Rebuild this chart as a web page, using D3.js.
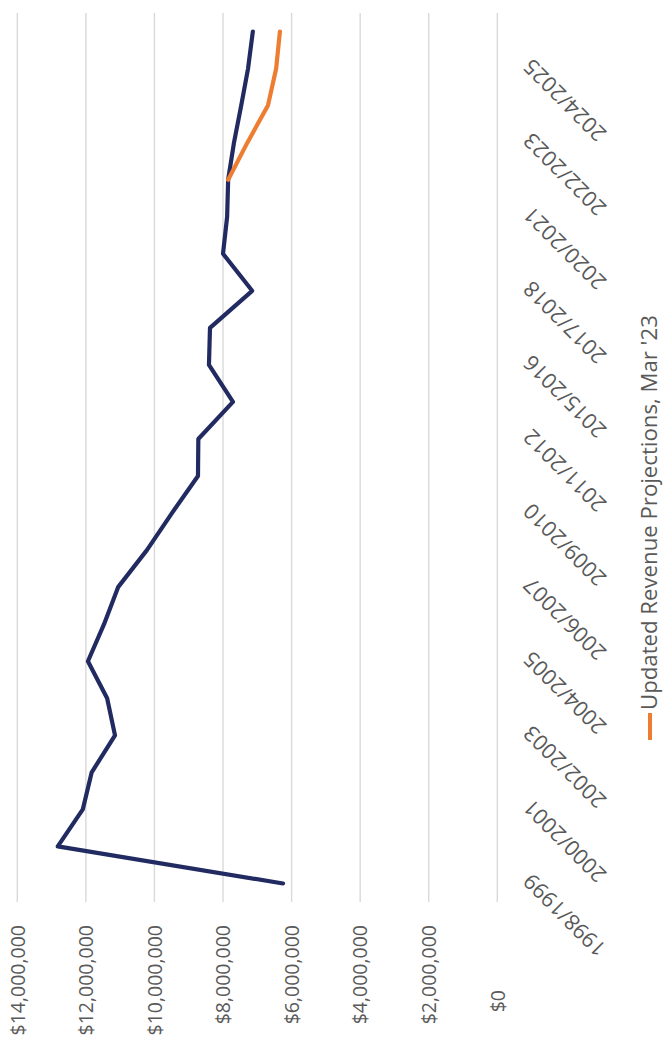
<!DOCTYPE html>
<html>
<head>
<meta charset="utf-8">
<script src="https://cdn.jsdelivr.net/npm/d3@7"></script>
<style>
  html, body { margin: 0; padding: 0; background: #ffffff; }
  svg { display: block; font-family: "Open Sans", sans-serif; }
</style>
</head>
<body>
<svg id="chart" width="665" height="1056"></svg>
<script>
// Fiscal years on the category axis
const fiscalYears = [
  "1998/1999", "1999/2000", "2000/2001", "2001/2002", "2002/2003", "2003/2004",
  "2004/2005", "2005/2006", "2006/2007", "2007/2008", "2009/2010", "2010/2011",
  "2011/2012", "2012/2013", "2015/2016", "2016/2017", "2017/2018", "2018/2019",
  "2020/2021", "2021/2022", "2022/2023", "2023/2024", "2024/2025", "2025/2026"
];

// Revenue history and earlier projection (dollars)
const priorProjection = [
  6250000, 12820000, 12090000, 11830000, 11150000, 11380000,
  11940000, 11470000, 11060000, 10220000, 9490000, 8730000,
  8720000, 7710000, 8410000, 8380000, 7150000, 8000000,
  7880000, 7850000, 7680000, 7470000, 7270000, 7130000
];

// Updated projection, Mar '23 (dollars)
const updatedProjection = [
  null, null, null, null, null, null,
  null, null, null, null, null, null,
  null, null, null, null, null, null,
  null, 7850000, 7290000, 6690000, 6450000, 6340000
];

const valueTicks = [0, 2000000, 4000000, 6000000, 8000000, 10000000, 12000000, 14000000];
const legendLabel = "Updated Revenue Projections, Mar '23";

const textColor = "#595959";
const gridColor = "#d9d9d9";
const navy = "#222b61";
const orange = "#ed7d31";

// The chart is laid out landscape (1056 wide, 665 tall) and turned a quarter
// turn counter-clockwise onto the portrait page.
const pageH = 1056;
const svg = d3.select("#chart");
const g = svg.append("g").attr("transform", `translate(0,${pageH}) rotate(-90)`);

const x = d3.scaleBand().domain(fiscalYears).range([154, 1043]);
const y = d3.scaleLinear().domain([0, 14000000]).range([497.3, 17.3]);
const cx = d => x(d) + x.bandwidth() / 2;

// Horizontal gridlines
g.append("g")
  .selectAll("line")
  .data(valueTicks)
  .join("line")
  .attr("x1", x.range()[0])
  .attr("x2", x.range()[1])
  .attr("y1", d => y(d))
  .attr("y2", d => y(d))
  .attr("stroke", gridColor)
  .attr("stroke-width", 1.4);

// Value axis labels
const yAxis = g.append("g")
  .attr("transform", "translate(131,0)")
  .call(d3.axisLeft(y).tickValues(valueTicks).tickFormat(d3.format("$,")).tickSize(0).tickPadding(0));
yAxis.select(".domain").remove();
yAxis.selectAll("text")
  .attr("fill", textColor)
  .attr("font-size", 19.5)
  .attr("font-family", "Open Sans, sans-serif")
  .attr("dy", "0.35em")
  .attr("dx", d => d === 0 ? -65 : 0);

// Category axis labels, every other fiscal year, slanted
const xAxis = g.append("g")
  .attr("transform", `translate(0,${y(0)})`)
  .call(d3.axisBottom(x).tickValues(fiscalYears.filter((d, i) => i % 2 === 0)).tickSize(0));
xAxis.select(".domain").remove();
xAxis.selectAll("text")
  .attr("fill", textColor)
  .attr("font-size", 21.5)
  .attr("font-family", "Open Sans, sans-serif")
  .attr("text-anchor", "end")
  .attr("x", 0)
  .attr("y", 0)
  .attr("dy", "0.35em")
  .attr("transform", "translate(6,30) rotate(-45)");

// Series lines
const line = d3.line()
  .defined(d => d.v != null)
  .x(d => cx(d.year))
  .y(d => y(d.v));

const series = [
  { values: priorProjection, color: navy },
  { values: updatedProjection, color: orange }
];

g.append("g")
  .selectAll("path")
  .data(series)
  .join("path")
  .attr("d", s => line(fiscalYears.map((year, i) => ({ year, v: s.values[i] }))))
  .attr("fill", "none")
  .attr("stroke", s => s.color)
  .attr("stroke-width", 4.2)
  .attr("stroke-linejoin", "round")
  .attr("stroke-linecap", "round");

// Legend
const legend = g.append("g").attr("transform", "translate(316,650)");
legend.append("line")
  .attr("x1", 0).attr("x2", 27)
  .attr("y1", 0).attr("y2", 0)
  .attr("stroke", orange)
  .attr("stroke-width", 4);
legend.append("text")
  .attr("x", 30)
  .attr("y", 0)
  .attr("dy", "0.3em")
  .attr("fill", textColor)
  .attr("font-size", 22.2)
  .text(legendLabel);
</script>
</body>
</html>
